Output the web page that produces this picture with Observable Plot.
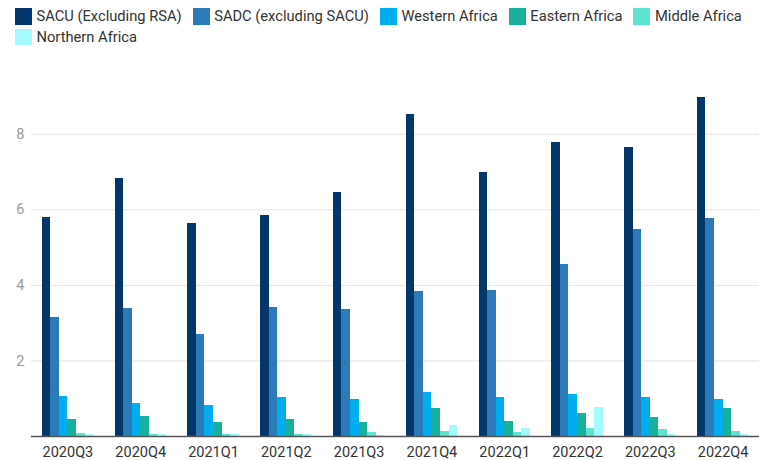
<!DOCTYPE html>
<html>
<head>
<meta charset="utf-8">
<script src="https://cdn.jsdelivr.net/npm/d3@7"></script>
<script src="https://cdn.jsdelivr.net/npm/@observablehq/plot@0.6"></script>
<style>
  html, body { margin: 0; padding: 0; background: #fff; }
  body { width: 759px; height: 460px; overflow: hidden; font-family: Roboto, "Noto Sans", sans-serif; }
  #legend { height: 50px; box-sizing: border-box; padding: 6px 0 0 15px; font-size: 14.7px; color: #333; line-height: 20.5px; width: 759px; }
  .item { display: inline-flex; align-items: center; height: 20.5px; vertical-align: top; margin-right: 11px; white-space: nowrap; }
  .sw { display: inline-block; width: 17px; height: 16.5px; margin-right: 4.5px; }
  #chart svg { display: block; }
</style>
</head>
<body>
<div id="legend"></div>
<div id="chart"></div>
<script>
const quarters = ["2020Q3","2020Q4","2021Q1","2021Q2","2021Q3","2021Q4","2022Q1","2022Q2","2022Q3","2022Q4"];
const regions = ["SACU (Excluding RSA)","SADC (excluding SACU)","Western Africa","Eastern Africa","Middle Africa","Northern Africa"];
const colors = ["#03366b","#2b7bb8","#00aeef","#19b09b","#5fe3d1","#a3fbfd"];

const sacu     = [5.80, 6.84, 5.64, 5.85, 6.45, 8.53, 6.99, 7.79, 7.66, 8.98];
const sadc     = [3.16, 3.38, 2.70, 3.41, 3.36, 3.84, 3.86, 4.55, 5.48, 5.76];
const western  = [1.05, 0.87, 0.81, 1.02, 0.97, 1.16, 1.03, 1.11, 1.03, 0.98];
const eastern  = [0.46, 0.53, 0.36, 0.44, 0.36, 0.74, 0.41, 0.62, 0.51, 0.75];
const middle   = [0.07, 0.06, 0.06, 0.06, 0.10, 0.13, 0.11, 0.22, 0.18, 0.13];
const northern = [0.06, 0.05, 0.06, 0.05, 0.02, 0.28, 0.20, 0.76, 0.05, 0.05];
const yTicks = [2, 4, 6, 8];

const series = [sacu, sadc, western, eastern, middle, northern];

// legend
const legend = document.getElementById("legend");
regions.forEach((r, i) => {
  const it = document.createElement("span");
  it.className = "item";
  it.innerHTML = `<span class="sw" style="background:${colors[i]}"></span>${r}`;
  legend.appendChild(it);
});

const W = 759, H = 410, mL = 31, mR = 0;
const pInner = 0.295, pOuter = 0.1475;
const band = d3.scaleBand().domain(quarters).range([mL, W - mR]).paddingInner(pInner).paddingOuter(pOuter);
const bw = band.bandwidth() / regions.length;

const marks = [
  Plot.gridY(yTicks, {stroke: "#e3e3e3", strokeOpacity: 1}),
];
series.forEach((vals, i) => {
  const data = quarters.map((q, k) => ({quarter: q, value: vals[k]}));
  marks.push(Plot.barY(data, {
    x: "quarter", y: "value", fill: colors[i], shapeRendering: "crispEdges",
    insetLeft: i * bw, insetRight: (regions.length - 1 - i) * bw
  }));
});
marks.push(Plot.ruleY([0], {stroke: "#555", strokeWidth: 1.3}));
marks.push(Plot.axisY(yTicks, {tickSize: 0, tickPadding: 7, fontSize: 14.5, color: "#9a9a9a", label: null}));
marks.push(Plot.axisX({tickSize: 0, tickPadding: 10, fontSize: 14.5, color: "#333", label: null}));

const chart = Plot.plot({
  width: W, height: H,
  marginLeft: mL, marginRight: mR, marginTop: 46, marginBottom: 24,
  style: {fontFamily: "Roboto, sans-serif", background: "#fff", maxWidth: "none"},
  x: {type: "band", domain: quarters, range: [mL, W - mR], paddingInner: pInner, paddingOuter: pOuter, round: false, label: null},
  y: {domain: [0, 9], label: null},
  marks
});
document.getElementById("chart").appendChild(chart);
</script>
</body>
</html>
